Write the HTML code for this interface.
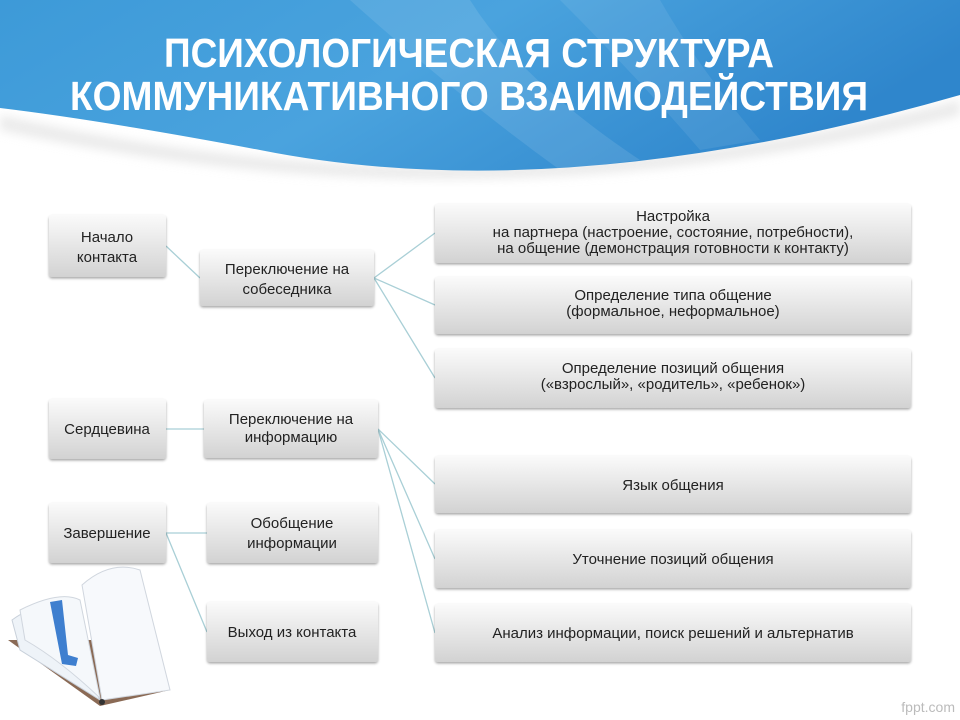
<!DOCTYPE html>
<html><head><meta charset="utf-8"><style>
body{margin:0;background:#fff}
svg{display:block}
text{font-family:"Liberation Sans",sans-serif;fill:#222}
</style></head><body>
<svg width="960" height="720" viewBox="0 0 960 720" xmlns="http://www.w3.org/2000/svg">
<defs>
<linearGradient id="hb" x1="0" y1="0" x2="1" y2="0.3">
<stop offset="0" stop-color="#3d9ad8"/><stop offset="0.5" stop-color="#4aa3de"/><stop offset="1" stop-color="#2f86cc"/></linearGradient>
<linearGradient id="bx" x1="0" y1="0" x2="0" y2="1">
<stop offset="0" stop-color="#fafafa"/><stop offset="1" stop-color="#d2d2d2"/></linearGradient>
<filter id="sh" x="-10%" y="-10%" width="120%" height="130%"><feDropShadow dx="0" dy="1.5" stdDeviation="1.2" flood-color="#000" flood-opacity="0.35"/></filter>
<filter id="sh2"><feGaussianBlur stdDeviation="5"/></filter>
</defs>
<path d="M0 115 Q480 225 960 100 L960 115 Q480 235 0 130Z" fill="#ddd" filter="url(#sh2)" opacity="0.6"/>
<path d="M0 0 H960 V95 Q560 210 260 150 Q100 120 0 108Z" fill="url(#hb)"/>
<path d="M350 0 Q450 90 560 170 L640 160 Q520 80 470 0Z" fill="#fff" opacity="0.1"/>
<path d="M560 0 Q640 80 700 150 L760 140 Q700 70 660 0Z" fill="#fff" opacity="0.08"/>
<g font-weight="bold" font-size="41" text-anchor="middle">
<text x="469" y="67" style="fill:#fff" textLength="610" lengthAdjust="spacingAndGlyphs">ПСИХОЛОГИЧЕСКАЯ СТРУКТУРА</text>
<text x="469" y="110" style="fill:#fff" textLength="798" lengthAdjust="spacingAndGlyphs">КОММУНИКАТИВНОГО ВЗАИМОДЕЙСТВИЯ</text>
</g>
<g stroke="#a9cfd6" stroke-width="1.3" fill="none">
<path d="M166 246 L200 278"/>
<path d="M374 278 L435 233 M374 278 L435 305 M374 278 L435 378"/>
<path d="M166 429 L204 429"/>
<path d="M378 429 L435 484 M378 429 L435 559 M378 429 L435 633"/>
<path d="M166 533 L207 533 M166 533 L207 632"/>
</g>
<g fill="url(#bx)" filter="url(#sh)">
<rect x="49" y="215" width="117" height="62" rx="3"/>
<rect x="200" y="250" width="174" height="56" rx="3"/>
<rect x="435" y="204" width="476" height="59" rx="3"/>
<rect x="435" y="277" width="476" height="57" rx="3"/>
<rect x="435" y="349" width="476" height="59" rx="3"/>
<rect x="49" y="399" width="117" height="60" rx="3"/>
<rect x="204" y="400" width="174" height="58" rx="3"/>
<rect x="435" y="456" width="476" height="57" rx="3"/>
<rect x="435" y="530" width="476" height="58" rx="3"/>
<rect x="435" y="604" width="476" height="58" rx="3"/>
<rect x="49" y="503" width="117" height="60" rx="3"/>
<rect x="207" y="503" width="171" height="60" rx="3"/>
<rect x="207" y="602" width="171" height="60" rx="3"/>
</g>
<g font-size="15" text-anchor="middle">
<text x="107" y="242">Начало</text><text x="107" y="262">контакта</text>
<text x="287" y="274">Переключение на</text><text x="287" y="294">собеседника</text>
<text x="673" y="221">Настройка</text>
<text x="673" y="237">на партнера (настроение, состояние, потребности),</text>
<text x="673" y="253">на общение (демонстрация готовности к контакту)</text>
<text x="673" y="300">Определение типа общение</text><text x="673" y="316">(формальное, неформальное)</text>
<text x="673" y="373">Определение позиций общения</text><text x="673" y="389">(«взрослый», «родитель», «ребенок»)</text>
<text x="107" y="434">Сердцевина</text>
<text x="291" y="424">Переключение на</text><text x="291" y="442">информацию</text>
<text x="673" y="490">Язык общения</text>
<text x="673" y="564">Уточнение позиций общения</text>
<text x="673" y="638">Анализ информации, поиск решений и альтернатив</text>
<text x="107" y="538">Завершение</text>
<text x="292" y="528">Обобщение</text><text x="292" y="548">информации</text>
<text x="292" y="637">Выход из контакта</text>
</g>
<g>
<path d="M8 640 L100 706 L170 690 L100 640Z" fill="#8a6a55"/>
<path d="M12 620 Q40 600 55 610 L100 700 L20 650Z" fill="#eef3f8" stroke="#c8d0da"/>
<path d="M20 610 Q60 590 80 600 L100 698 Q60 660 25 640Z" fill="#f5f8fb" stroke="#d0d6de"/>
<path d="M82 585 Q110 560 140 570 L170 690 L102 700Z" fill="#f7f9fc" stroke="#d0d6de"/>
<path d="M50 602 L62 600 L68 655 L78 658 L76 666 L62 664Z" fill="#3e7fcf"/>
<circle cx="102" cy="702" r="3" fill="#333"/>
</g>
<text x="955" y="712" font-size="14" text-anchor="end" style="fill:#bbb">fppt.com</text>
</svg>
</body></html>
